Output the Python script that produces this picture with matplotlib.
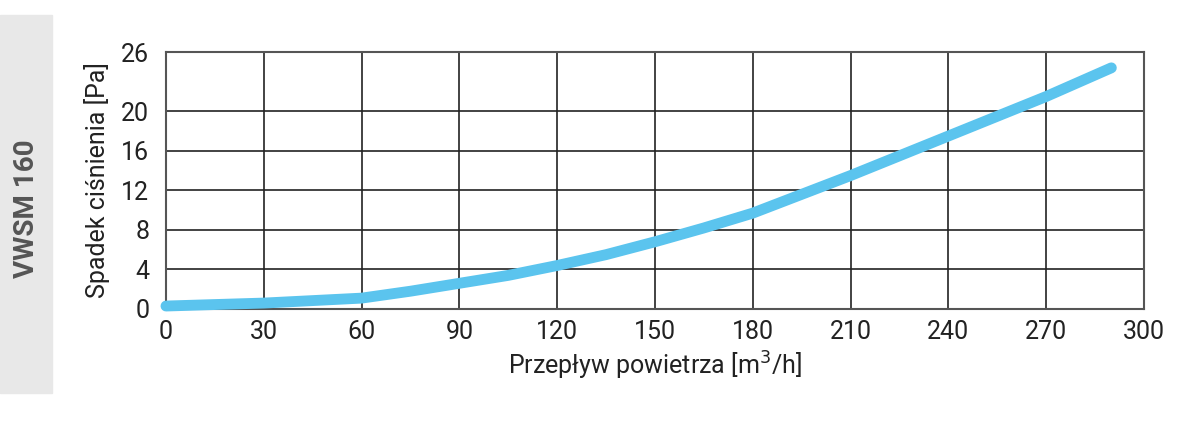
import matplotlib

matplotlib.use("Agg")
import matplotlib.pyplot as plt  # noqa: E402
from matplotlib.patches import Rectangle  # noqa: E402

plt.rcParams["font.family"] = ["Roboto", "DejaVu Sans"]

# curve: air flow [m3/h] vs pressure drop [Pa]
flow = [0, 30, 60, 75, 90, 105, 120, 135, 150, 165, 180, 195, 210, 225, 240, 255, 270, 290]
drop = [0.3, 0.6, 1.1, 1.8, 2.6, 3.4, 4.4, 5.5, 6.8, 8.2, 9.7, 11.6, 13.5, 15.5, 17.5, 19.5, 21.5, 24.4]
xticks = [0, 30, 60, 90, 120, 150, 180, 210, 240, 270, 300]
yticks = [0, 4, 8, 12, 16, 20, 26]
model = "VWSM 160"

fig = plt.figure(figsize=(12, 4.3), dpi=100)
fig.patches.append(
    Rectangle((0, 0.086), 0.0433, 0.879, transform=fig.transFigure, color="#e8e8e8", zorder=0)
)
fig.text(0.022, 0.515, model, rotation=90, ha="center", va="center",
         fontsize=20, fontweight="bold", color="#555555")

ax = fig.add_axes([0.1383, 0.2814, 0.815, 0.5976])
ax.plot(flow, drop, color="#5bc4ee", lw=7.8, solid_capstyle="round", zorder=3, clip_on=False)
ax.set_xlim(0, 300)
ax.set_ylim(0, 26)
ax.set_xticks(xticks)
ax.set_yticks(yticks)
ax.grid(True, color="#222222", lw=1.2)
for s in ax.spines.values():
    s.set_color("#555555")
    s.set_linewidth(1.5)
ax.tick_params(length=0, labelsize=18, colors="#222222")
ax.tick_params(axis="y", pad=12)
ax.tick_params(axis="x", pad=8)
ax.set_xlabel("Przepływ powietrza [m$^3$/h]", fontsize=18, color="#222222", labelpad=4)
ax.set_ylabel("Spadek ciśnienia [Pa]", fontsize=18, color="#222222", labelpad=8)

fig.savefig("out.png", dpi=100)
